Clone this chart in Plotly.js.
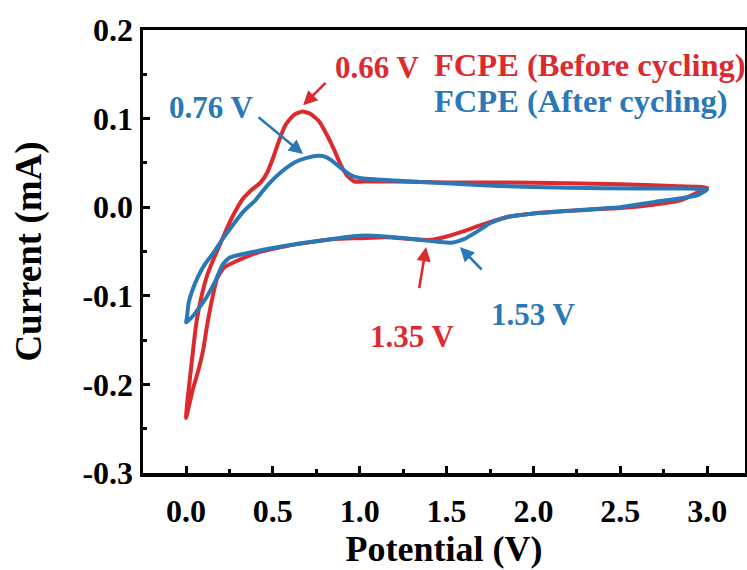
<!DOCTYPE html>
<html>
<head>
<meta charset="utf-8">
<script src="https://cdn.plot.ly/plotly-3.0.1.min.js"></script>
<style>html,body{margin:0;padding:0;background:#fff;}#chart{width:747px;height:570px;}</style>
</head>
<body>
<div id="chart"></div>
<script>
// Before cycling (red): cathodic sweep 3.0 -> 0 V, then anodic sweep 0 -> 3.0 V
const beforeV = [3.00,2.95,2.85,2.70,2.50,2.20,2.00,1.85,1.70,1.60,1.50,1.40,1.30,1.15,1.00,0.85,0.70,0.55,0.40,0.30,0.22,0.18,0.15,0.12,0.10,0.07,0.04,0.02,0.00,
  0.01,0.03,0.06,0.09,0.12,0.16,0.20,0.24,0.28,0.33,0.38,0.43,0.47,0.50,0.53,0.57,0.62,0.67,0.72,0.77,0.81,0.85,0.89,0.93,0.97,1.05,1.20,1.50,1.80,2.20,2.50,2.80,3.00];
const beforeI = [0.022,0.017,0.008,0.003,-0.001,-0.004,-0.007,-0.011,-0.020,-0.027,-0.033,-0.037,-0.036,-0.034,-0.035,-0.036,-0.040,-0.045,-0.052,-0.060,-0.068,-0.080,-0.104,-0.135,-0.160,-0.185,-0.205,-0.222,-0.238,
  -0.215,-0.180,-0.130,-0.100,-0.078,-0.058,-0.040,-0.022,-0.006,0.010,0.020,0.028,0.040,0.055,0.072,0.092,0.104,0.108,0.105,0.096,0.082,0.066,0.048,0.035,0.029,0.029,0.029,0.028,0.028,0.027,0.026,0.024,0.022];

// After cycling (blue)
const afterV = [3.00,2.95,2.85,2.70,2.50,2.35,2.15,2.00,1.85,1.75,1.68,1.60,1.53,1.45,1.35,1.20,1.05,0.95,0.80,0.65,0.50,0.35,0.25,0.21,0.17,0.12,0.07,0.03,0.00,
  0.005,0.015,0.04,0.07,0.11,0.16,0.21,0.27,0.33,0.40,0.47,0.55,0.63,0.70,0.76,0.80,0.85,0.90,0.95,1.00,1.20,1.50,1.80,2.20,2.60,2.90,3.00];
const afterI = [0.020,0.014,0.010,0.006,0.000,-0.002,-0.005,-0.007,-0.011,-0.018,-0.027,-0.036,-0.040,-0.039,-0.037,-0.034,-0.032,-0.033,-0.037,-0.041,-0.046,-0.052,-0.057,-0.065,-0.083,-0.101,-0.115,-0.125,-0.130,
  -0.125,-0.108,-0.092,-0.078,-0.064,-0.051,-0.036,-0.020,-0.005,0.008,0.025,0.040,0.051,0.056,0.058,0.057,0.051,0.043,0.036,0.033,0.030,0.027,0.024,0.022,0.021,0.021,0.020];

const xTickVals = [0,0.5,1,1.5,2,2.5,3];
const xTickText = ['0.0','0.5','1.0','1.5','2.0','2.5','3.0'];
const yTickVals = [0.2,0.1,0,-0.1,-0.2,-0.3];
const yTickText = ['0.2','0.1','0.0','-0.1','-0.2','-0.3'];

const seriesNames = ['FCPE (Before cycling)','FCPE (After cycling)'];
const peakLabels = ['0.66 V','0.76 V','1.35 V','1.53 V'];

const RED = '#dd2a2e', BLUE = '#2a78b6';
const FONT = 'Liberation Serif, Times New Roman, serif';

const traces = [
  {x: beforeV, y: beforeI, mode:'lines', line:{color:RED, width:4, shape:'spline', smoothing:0.5}, name:seriesNames[0], hoverinfo:'skip'},
  {x: afterV, y: afterI, mode:'lines', line:{color:BLUE, width:4, shape:'spline', smoothing:0.5}, name:seriesNames[1], hoverinfo:'skip'}
];

function arrow(x, y, ax, ay, color){
  return {x:x, y:y, ax:ax, ay:ay, xref:'x', yref:'y', axref:'x', ayref:'y', text:'', showarrow:true,
    arrowhead:2, arrowsize:1.1, arrowwidth:2.6, arrowcolor:color, standoff:0, startstandoff:0};
}
function label(text, x, y, color, anchor, size){
  return {x:x, y:y, xref:'x', yref:'y', text:text, showarrow:false, xanchor:anchor||'center', yanchor:'middle',
    font:{family:FONT, size:size||31, color:color, weight:'bold'}};
}

const annotations = [
  arrow(0.674, 0.115, 0.812, 0.142, RED),
  arrow(0.674, 0.060, 0.409, 0.103, BLUE),
  arrow(1.382, -0.045, 1.341, -0.093, RED),
  arrow(1.577, -0.045, 1.710, -0.072, BLUE),
  label(peakLabels[0], 1.10, 0.158, RED),
  label(peakLabels[1], 0.144, 0.113, BLUE),
  label(peakLabels[2], 1.301, -0.146, RED),
  label(peakLabels[3], 1.998, -0.121, BLUE),
  label(seriesNames[0], 1.416, 0.160, RED, 'left', 32.5),
  label(seriesNames[1], 1.416, 0.120, BLUE, 'left', 32.5)
];

const layout = {
  width:747, height:570,
  margin:{l:143, r:2, t:30, b:97},
  paper_bgcolor:'#fff', plot_bgcolor:'#fff',
  showlegend:false,
  font:{family:FONT, color:'#000'},
  xaxis:{
    range:[-0.2476, 3.218], showgrid:false, zeroline:false,
    showline:true, mirror:true, linecolor:'#000', linewidth:3.5,
    ticks:'inside', ticklen:7, tickwidth:3, tickcolor:'#000',
    tickvals:xTickVals, ticktext:xTickText, ticklabelstandoff:7,
    tickfont:{family:FONT, size:32, color:'#000', weight:'bold'},
    minor:{ticks:'inside', ticklen:4, tickwidth:3, tickcolor:'#000', tick0:0, dtick:0.25},
    title:{text:'Potential (V)', font:{family:FONT, size:36, color:'#000', weight:'bold'}, standoff:6}
  },
  yaxis:{
    range:[-0.3, 0.2], showgrid:false, zeroline:false,
    showline:true, mirror:true, linecolor:'#000', linewidth:3.5,
    ticks:'inside', ticklen:7, tickwidth:3, tickcolor:'#000',
    tickvals:yTickVals, ticktext:yTickText,
    tickfont:{family:FONT, size:32, color:'#000', weight:'bold'},
    minor:{ticks:'inside', ticklen:4, tickwidth:3, tickcolor:'#000', tick0:0, dtick:0.05},
    title:{text:'Current (mA)', font:{family:FONT, size:37, color:'#000', weight:'bold'}, standoff:30}
  },
  annotations: annotations
};

Plotly.newPlot('chart', traces, layout, {staticPlot:true, displayModeBar:false});
</script>
</body>
</html>
